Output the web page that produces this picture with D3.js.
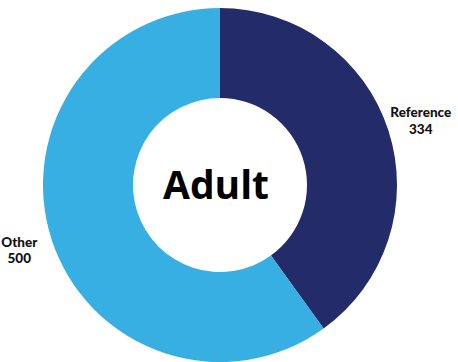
<!DOCTYPE html>
<html>
<head>
<meta charset="utf-8">
<script src="https://cdn.jsdelivr.net/npm/d3@7"></script>
<style>
  body { margin: 0; background: #fff; }
</style>
</head>
<body>
<div id="chart"></div>
<script>
// Data
const categories = ["Reference", "Other"];
const values = [334, 500];
const colors = ["#232c69", "#38afe2"];
const centerLabel = "Adult";

// Dimensions
const width = 458;
const height = 362;
const cx = 220;
const cy = 185;
const outerRadius = 177;
const innerRadius = 87;
const labelRadius = 211;

const svg = d3.select("#chart")
  .append("svg")
    .attr("width", width)
    .attr("height", height);

const g = svg.append("g")
  .attr("transform", `translate(${cx}, ${cy})`);

const data = categories.map((c, i) => ({ name: c, value: values[i] }));

const color = d3.scaleOrdinal()
  .domain(categories)
  .range(colors);

// Pie starting at 12 o'clock, going clockwise, keep input order
const pie = d3.pie().sort(null).value(d => d.value);
const arcs = pie(data);

const arc = d3.arc().innerRadius(innerRadius).outerRadius(outerRadius);
const labelArc = d3.arc().innerRadius(labelRadius).outerRadius(labelRadius);

g.selectAll("path")
  .data(arcs)
  .enter()
  .append("path")
    .attr("d", arc)
    .attr("fill", d => color(d.data.name));

// Slice labels: name on one line, value below
const labelGroups = g.selectAll("g.slice-label")
  .data(arcs)
  .enter()
  .append("g")
    .attr("class", "slice-label")
    .attr("transform", d => `translate(${labelArc.centroid(d)})`);

labelGroups.append("text")
  .attr("y", -3)
  .attr("text-anchor", "middle")
  .style("font-family", "Lato, sans-serif")
  .style("font-weight", "900")
  .style("font-size", "13.5px")
  .style("fill", "#111")
  .text(d => d.data.name);

labelGroups.append("text")
  .attr("y", 13.5)
  .attr("text-anchor", "middle")
  .style("font-family", "Lato, sans-serif")
  .style("font-weight", "900")
  .style("font-size", "13.5px")
  .style("fill", "#111")
  .text(d => d.data.value);

// Center label
g.append("text")
  .attr("x", -4)
  .attr("y", 14)
  .attr("text-anchor", "middle")
  .style("font-family", "'Open Sans', sans-serif")
  .style("font-weight", "bold")
  .style("font-size", "39px")
  .style("fill", "#000")
  .text(centerLabel);
</script>
</body>
</html>
